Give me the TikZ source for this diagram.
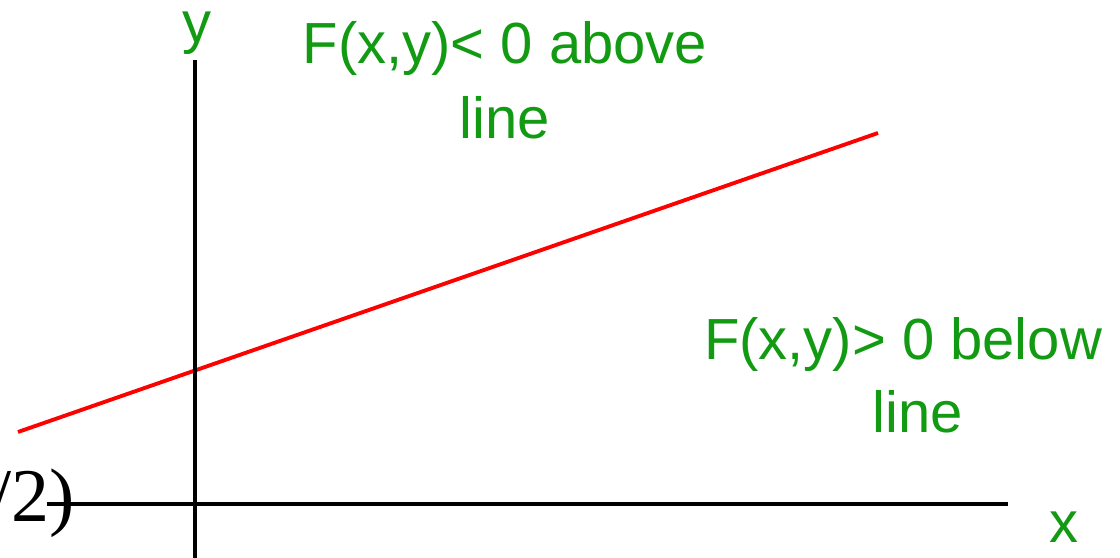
\documentclass[tikz,border=0pt]{standalone}
\usepackage{fontspec}
\setmainfont{Liberation Sans}
\newfontfamily\serifnum{Liberation Serif}
\usetikzlibrary{positioning}
\definecolor{regVerde}{HTML}{129B12}
\definecolor{regRojo}{HTML}{FF0000}
\begin{document}
\begin{tikzpicture}[
      eje/.style={draw=black, line width=1.1pt},
      recta/.style={draw=regRojo, line width=1.1pt},
      lbl/.style={text=regVerde, inner sep=0pt, align=center,
                  font=\fontsize{16.5}{20.5}\selectfont},
      every node/.style={inner sep=0pt}]
    \useasboundingbox (0,0) rectangle (11.2,5.57);
    % the line F(x,y)=0
    \coordinate (r0) at (0.18,1.25);
    \coordinate (r1) at (8.78,4.24);
    \draw[recta] (r0) -- (r1);
    % axes
    \coordinate (ya) at (1.95,-0.1);
    \coordinate (yb) at (1.95,4.97);
    \coordinate (xa) at (0.47,0.53);
    \coordinate (xb) at (10.08,0.53);
    \draw[eje] (ya) -- (yb);
    \draw[eje] (xa) -- (xb);
    \node[lbl, anchor=base] (ly) at (1.97,5.14) {y};
    \node[lbl, anchor=base] (lx) at (10.64,0.14) {x};
    % regions (base = last line)
    \node[lbl, anchor=base] (arriba) at (5.05,4.18) {F(x,y)< 0 above\\[1pt]line};
    \node[lbl, anchor=base] (abajo) at (9.03,1.25) {F(x,y)> 0 below\\\hspace*{0.5em}line};
    % leftover text at the edge
    \node[anchor=base west, font=\serifnum\fontsize{21.6}{24}\selectfont] (resto) at (-0.10,0.35) {/2)};
  \end{tikzpicture}
\end{document}
